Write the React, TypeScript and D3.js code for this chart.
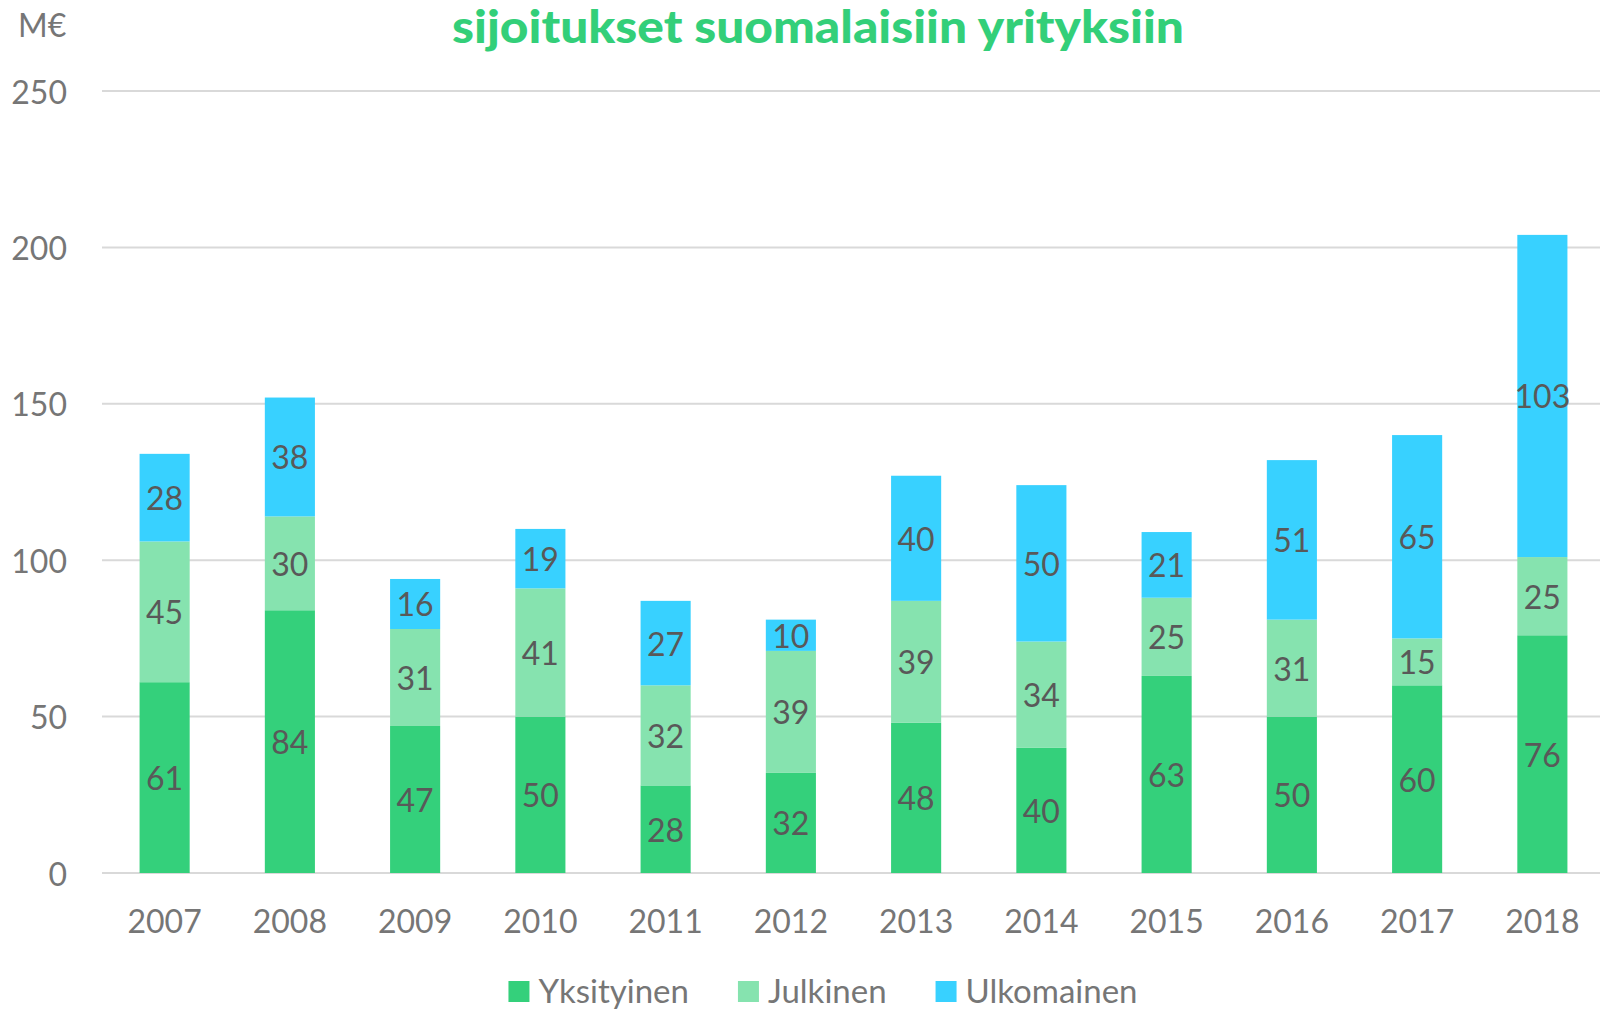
import React, {useEffect, useRef} from 'react';
import * as d3 from 'd3';

// chart data (M€)
const years = ['2007','2008','2009','2010','2011','2012','2013','2014','2015','2016','2017','2018'];
const yksityinen = [61, 84, 47, 50, 28, 32, 48, 40, 63, 50, 60, 76];
const julkinen = [45, 30, 31, 41, 32, 39, 39, 34, 25, 31, 15, 25];
const ulkomainen = [28, 38, 16, 19, 27, 10, 40, 50, 21, 51, 65, 103];
const seriesNames = ['Yksityinen', 'Julkinen', 'Ulkomainen'];
const yTicks = [0, 50, 100, 150, 200, 250];
const title = 'sijoitukset suomalaisiin yrityksiin';
const unit = 'M€';

const colors = ['#34D07B', '#86E3AF', '#38D1FF'];
const W = 1600, H = 1009;
const font = 'Lato, "Open Sans", sans-serif';

export default function App(){
    const legendRef = useRef(null);

    const x = d3.scaleBand().domain(years).range([102, 1605]).paddingInner(0.6).paddingOuter(0.3);
    const y = d3.scaleLinear().domain([0, 250]).range([873, 91]);

    // stack the three series per year
    const table = years.map((yr, i) => ({year: yr, Yksityinen: yksityinen[i], Julkinen: julkinen[i], Ulkomainen: ulkomainen[i]}));
    const stacked = d3.stack().keys(seriesNames)(table);

    //lay out legend items by their measured text width, centred
    useEffect(()=>{
        const g = d3.select(legendRef.current);
        const items = g.selectAll('.legend-item').nodes();
        let offset = 0;
        const pos = [];
        items.forEach(n => {
            const t = d3.select(n).select('text').node();
            const w = t.getComputedTextLength();
            pos.push(offset);
            offset += 21 + 9 + w + 49;
        });
        const total = offset - 49;
        const start = 823 - total/2;
        items.forEach((n, i) => d3.select(n).attr('transform', 'translate(' + (start + pos[i]) + ',0)'));
    }, []);

    return (
        <div style={{position:'absolute', left:0, top:0}}>
            <svg width={W} height={H} style={{display:'block', background:'#fff'}}>
                <text x={818} y={43} textAnchor="middle" fontFamily={font} fontWeight={900} fontSize={45}
                      fill="#33CF79" textLength={732} lengthAdjust="spacingAndGlyphs">{title}</text>
                <text x={18} y={37} fontFamily={font} fontSize={32} fill="#767676">{unit}</text>

                {yTicks.map(t => (
                    <g key={t}>
                        <line x1={102} x2={W} y1={y(t)} y2={y(t)} stroke="#d9d9d9" strokeWidth={2}/>
                        <text x={67} y={y(t)} textAnchor="end" dominantBaseline="central"
                              fontFamily={font} fontSize={32} fill="#767676">{t}</text>
                    </g>
                ))}

                {stacked.map((layer, si) => (
                    <g key={layer.key}>
                        {layer.map((d, i) => (
                            <rect key={i} x={x(years[i])} width={x.bandwidth()}
                                  y={y(d[1])} height={y(d[0]) - y(d[1])} fill={colors[si]}/>
                        ))}
                    </g>
                ))}

                {stacked.map(layer => (
                    <g key={'lab' + layer.key}>
                        {layer.map((d, i) => (
                            <text key={i} x={x(years[i]) + x.bandwidth()/2} y={y((d[0] + d[1])/2)}
                                  textAnchor="middle" dominantBaseline="central"
                                  fontFamily={font} fontSize={32} fill="#595959">{d[1] - d[0]}</text>
                        ))}
                    </g>
                ))}

                {years.map(yr => (
                    <text key={yr} x={x(yr) + x.bandwidth()/2} y={933} textAnchor="middle"
                          fontFamily={font} fontSize={32} fill="#767676">{yr}</text>
                ))}

                <g ref={legendRef}>
                    {seriesNames.map((name, i) => (
                        <g key={name} className="legend-item">
                            <rect x={0} y={981} width={21} height={21} fill={colors[i]}/>
                            <text x={30} y={1003} fontFamily={font} fontSize={33} fill="#767676">{name}</text>
                        </g>
                    ))}
                </g>
            </svg>
        </div>
    );
}
